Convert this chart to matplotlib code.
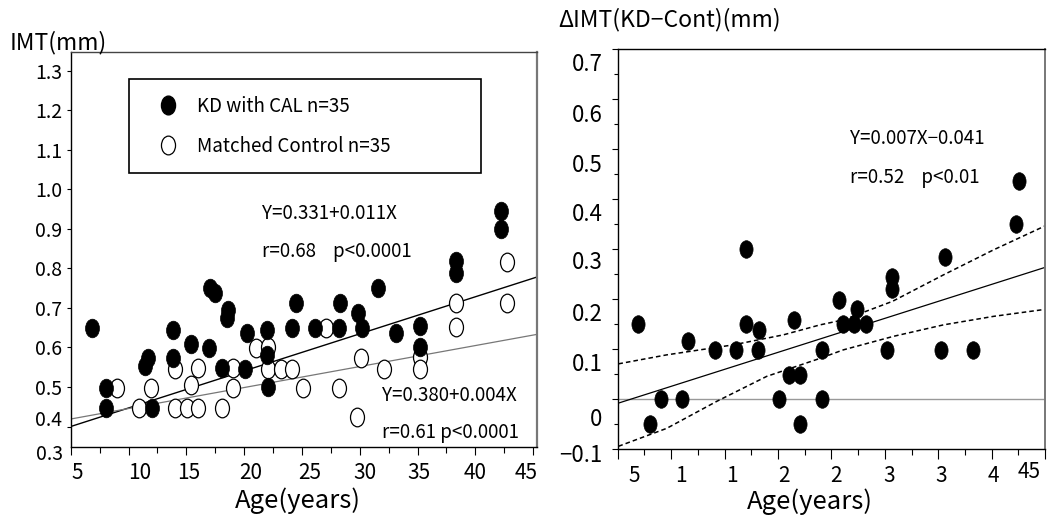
import matplotlib
matplotlib.use("Agg")
import matplotlib.pyplot as plt
from matplotlib.path import Path
from matplotlib.transforms import Affine2D, ScaledTranslation
from matplotlib.lines import Line2D

plt.rcParams['font.family'] = ['Noto Sans CJK JP', 'DejaVu Sans']

# ---------------- data (left panel) ----------------
kd_age = [6.87, 8.03, 8.03, 11.43, 11.71, 12.01, 13.88, 13.88, 15.38, 16.99,
          17.05, 17.48, 18.63, 18.49, 18.11, 20.28, 20.08, 22.01, 21.96, 22.09,
          24.12, 24.49, 26.13, 28.30, 28.24, 29.88, 30.22, 31.61, 33.14, 35.22,
          35.22, 38.33, 38.33, 42.20, 42.20]
kd_imt = [0.649, 0.498, 0.448, 0.553, 0.573, 0.448, 0.644, 0.573, 0.609, 0.598,
          0.750, 0.739, 0.695, 0.674, 0.547, 0.636, 0.545, 0.644, 0.581, 0.499,
          0.649, 0.713, 0.649, 0.713, 0.649, 0.688, 0.649, 0.750, 0.637, 0.654,
          0.602, 0.820, 0.788, 0.946, 0.899]
ctrl_age = [9.03, 10.93, 11.95, 14.02, 14.02, 15.03, 15.41, 15.99, 15.99, 18.11,
            19.07, 19.07, 21.03, 22.09, 22.09, 23.17, 24.12, 25.12, 27.08, 28.21,
            29.74, 30.11, 32.10, 35.22, 35.22, 38.33, 38.33, 42.72, 42.72]
ctrl_imt = [0.498, 0.448, 0.498, 0.448, 0.545, 0.448, 0.505, 0.547, 0.448, 0.448,
            0.547, 0.498, 0.598, 0.602, 0.545, 0.545, 0.545, 0.497, 0.649, 0.497,
            0.425, 0.574, 0.545, 0.577, 0.546, 0.712, 0.653, 0.817, 0.712]
kd_fit_x = [5.0, 45.3]
kd_fit_y = [0.400, 0.778]
ctrl_fit_x = [5.0, 45.3]
ctrl_fit_y = [0.419, 0.633]

left_xticks = [5, 10, 15, 20, 25, 30, 35, 40, 45]
left_xlabels = ['5', '10', '15', '20', '25', '30', '35', '40', '45']
left_yticks = [0.4, 0.5, 0.6, 0.7, 0.8, 0.9, 1.0, 1.1, 1.2, 1.3]
left_ylabels = ['0.4', '0.5', '0.6', '0.7', '0.8', '0.9', '1.0', '1.1', '1.2', '1.3']

# ---------------- data (right panel) ----------------
delta_age = [6.93, 17.01, 8.02, 9.03, 10.99, 11.55, 14.11, 16.05, 17.01, 18.23,
             18.16, 21.54, 20.10, 21.07, 22.07, 22.07, 24.16, 24.16, 25.72, 27.38,
             26.12, 27.15, 28.25, 30.24, 30.71, 30.71, 35.67, 35.24, 38.30, 42.27,
             42.60]
delta_imt = [0.150, 0.300, -0.050, 0.000, 0.000, 0.116, 0.099, 0.099, 0.150, 0.138,
             0.099, 0.158, 0.000, 0.049, 0.049, -0.050, 0.099, 0.000, 0.199, 0.180,
             0.150, 0.150, 0.150, 0.099, 0.244, 0.220, 0.284, 0.099, 0.099, 0.351,
             0.437]
delta_fit_x = [5.0, 45.0]
delta_fit_y = [-0.008, 0.264]
ci_up_x = [5.06, 9.59, 15.82, 20.5, 23.94, 26.12, 30.71, 35.49, 40.17, 45.0]
ci_up_y = [0.071, 0.089, 0.109, 0.129, 0.149, 0.159, 0.196, 0.249, 0.299, 0.347]
ci_lo_x = [5.06, 9.59, 14.27, 18.95, 23.94, 26.12, 30.8, 35.49, 40.17, 45.0]
ci_lo_y = [-0.094, -0.058, -0.004, 0.046, 0.082, 0.099, 0.126, 0.149, 0.166, 0.180]

right_xticks = [5, 10, 15, 20, 25, 30, 35, 40, 45]
right_xlabels = ['5', '1', '1', '2', '2', '3', '3', '4', '45']
right_yticks = [-0.1, 0.0, 0.1, 0.2, 0.3, 0.4, 0.5, 0.6, 0.7]
right_ylabels = ['\u22120.1', '0', '0.1', '0.2', '0.3', '0.4', '0.5', '0.6', '0.7']

# ---------------- figure ----------------
DPI = 100
fig = plt.figure(figsize=(10.54, 5.26), dpi=DPI)
fig.patch.set_facecolor('white')

ell = Path.unit_circle().transformed(Affine2D().scale(0.75, 1.0))

ax1 = fig.add_axes([0.0671, 0.1508, 0.4421, 0.7498])
ax2 = fig.add_axes([0.5861, 0.1458, 0.4054, 0.7601])

# left panel
ax1.plot(kd_fit_x, kd_fit_y, color='black', lw=1.0, zorder=2)
ax1.plot(ctrl_fit_x, ctrl_fit_y, color='#777777', lw=0.9, zorder=2)
ax1.scatter(ctrl_age, ctrl_imt, marker=ell, s=180, facecolors='white',
            edgecolors='black', linewidths=0.9, zorder=3)
ax1.scatter(kd_age, kd_imt, marker=ell, s=180, facecolors='black',
            edgecolors='black', linewidths=0.5, zorder=4)
ax1.set_xlim(5, 45.31)
ax1.set_ylim(0.349, 1.347)
ax1.set_xticks(left_xticks)
ax1.set_xticks([7.5, 12.5, 17.5, 22.5, 27.5, 32.5, 37.5, 42.5], minor=True)
ax1.set_xticklabels(left_xlabels, fontsize=15)
ax1.set_yticks(left_yticks)
ax1.set_yticklabels(left_ylabels, fontsize=14)
ax1.tick_params(axis='y', which='major', length=3, width=0.8, pad=3)
ax1.tick_params(axis='x', which='major', length=6, width=0.8, pad=5)
ax1.tick_params(axis='x', which='minor', length=4, width=0.8)
ax1.spines['left'].set_linewidth(1.0)
ax1.spines['bottom'].set_linewidth(1.0)
ax1.spines['top'].set_color('#444444')
ax1.spines['top'].set_linewidth(1.0)
ax1.spines['right'].set_color('#777777')
ax1.spines['right'].set_linewidth(1.6)

ax1.set_xlabel('Age(years)', fontsize=18.5, va='center')
ax1.xaxis.set_label_coords((298 - 70.7) / 466, -0.138)

ax1.text(0.4105, 0.5925, 'Y=0.331+0.011X', transform=ax1.transAxes,
         fontsize=13.5, va='center', ha='left')
ax1.text(0.4105, 0.4937, 'r=0.68    p<0.0001', transform=ax1.transAxes,
         fontsize=13.5, va='center', ha='left')
ax1.text(0.668, 0.1286, 'Y=0.380+0.004X', transform=ax1.transAxes,
         fontsize=13.5, va='center', ha='left')
ax1.text(0.668, 0.0347, 'r=0.61 p<0.0001', transform=ax1.transAxes,
         fontsize=13.5, va='center', ha='left')

# extra misplaced "0.3" label like the reference
ax1.text(0, 0.3, '0.3', fontsize=14, ha='right', va='center', clip_on=False,
         transform=ax1.get_yaxis_transform()
         + ScaledTranslation(-7.4 / DPI, 11.5 / DPI, fig.dpi_scale_trans))

handles = [Line2D([], [], ls='none', marker=ell, markersize=13.5,
                  mfc='black', mec='black'),
           Line2D([], [], ls='none', marker=ell, markersize=13.5,
                  mfc='white', mec='black', mew=0.9)]
leg = ax1.legend(handles, ['KD with CAL n=35', 'Matched Control n=35'],
                 loc='upper left', bbox_to_anchor=(0.1251, 0.0, 0.7556, 0.9323),
                 mode='expand', borderaxespad=0, fontsize=13.5, frameon=True,
                 fancybox=False, edgecolor='black', framealpha=1,
                 borderpad=0.9, labelspacing=1.0, handlelength=2.4,
                 handletextpad=0.3)
leg.get_frame().set_linewidth(1.2)

fig.text(10 / 1054, 1 - 43 / 526, 'IMT(mm)', fontsize=16.5, ha='left', va='center')

# right panel
ax2.axhline(0, color='#999999', lw=1.0, zorder=1)
ax2.plot(delta_fit_x, delta_fit_y, color='black', lw=0.9, zorder=2)
ax2.plot(ci_up_x, ci_up_y, color='black', lw=1.1, ls=(0, (3, 2)), zorder=2)
ax2.plot(ci_lo_x, ci_lo_y, color='black', lw=1.1, ls=(0, (3, 2)), zorder=2)
ax2.scatter(delta_age, delta_imt, marker=ell, s=160, facecolors='black',
            edgecolors='black', linewidths=0.5, zorder=4)
ax2.set_xlim(5, 45)
ax2.set_ylim(-0.0996, 0.7)
ax2.set_xticks(right_xticks)
ax2.set_xticks([7.5, 12.5, 17.5, 22.5, 27.5, 32.5, 37.5, 42.5], minor=True)
ax2.set_xticklabels(right_xlabels, fontsize=15)
ax2.set_yticks(right_yticks)
ax2.set_yticks([-0.05, 0.05, 0.15, 0.25, 0.35, 0.45, 0.55, 0.65], minor=True)
ax2.set_yticklabels(right_ylabels, fontsize=16)
ax2.tick_params(axis='y', which='major', length=4, width=0.8, pad=7)
ax2.tick_params(axis='y', which='minor', length=3, width=0.8)
ax2.tick_params(axis='x', which='major', length=7, width=0.8, pad=4)
ax2.tick_params(axis='x', which='minor', length=4, width=0.8)
for s in ['left', 'bottom', 'top']:
    ax2.spines[s].set_linewidth(1.0)
ax2.spines['right'].set_color('#777777')
ax2.spines['right'].set_linewidth(1.4)

ax2.set_xlabel('Age(years)', fontsize=18.5, va='center')
ax2.xaxis.set_label_coords(0.45, -0.131)

ax2.text(0.5437, 0.7786, 'Y=0.007X\u22120.041', transform=ax2.transAxes,
         fontsize=13.5, va='center', ha='left')
ax2.text(0.5437, 0.681, 'r=0.52    p<0.01', transform=ax2.transAxes,
         fontsize=13.5, va='center', ha='left')

fig.text(558 / 1054, 1 - 20 / 526, '\u0394IMT(KD\u2212Cont)(mm)', fontsize=16.5,
         ha='left', va='center')

# per-label offsets (pixels) to mimic the reference label placement
fig.canvas.draw()
left_x_off = [7, 11, 2.5, 7, 8, 5, 1, 0, -7]
for t, dx in zip(ax1.xaxis.get_major_ticks(), left_x_off):
    t.label1.set_transform(t.label1.get_transform()
                           + ScaledTranslation(dx / DPI, 0, fig.dpi_scale_trans))
left_y_off = [9, 0, 0, 0, 0, 0, 0, 0, 0, 0]
for t, dy in zip(ax1.yaxis.get_major_ticks(), left_y_off):
    t.label1.set_transform(t.label1.get_transform()
                           + ScaledTranslation(0, dy / DPI, fig.dpi_scale_trans))
right_x_off = [(16, 0), (10, 0), (7, 0), (6, 0), (5, 0), (4, 0), (3, 0), (2, 0), (-16, 4)]
for t, (dx, dy) in zip(ax2.xaxis.get_major_ticks(), right_x_off):
    t.label1.set_transform(t.label1.get_transform()
                           + ScaledTranslation(dx / DPI, dy / DPI, fig.dpi_scale_trans))
right_y_off = [-4, -18, -12.5, -12.5, -10.5, -12.5, -13.5, -13.5, -12.5]
for t, dy in zip(ax2.yaxis.get_major_ticks(), right_y_off):
    t.label1.set_transform(t.label1.get_transform()
                           + ScaledTranslation(0, dy / DPI, fig.dpi_scale_trans))

fig.savefig('out.png', dpi=DPI, facecolor='white')
